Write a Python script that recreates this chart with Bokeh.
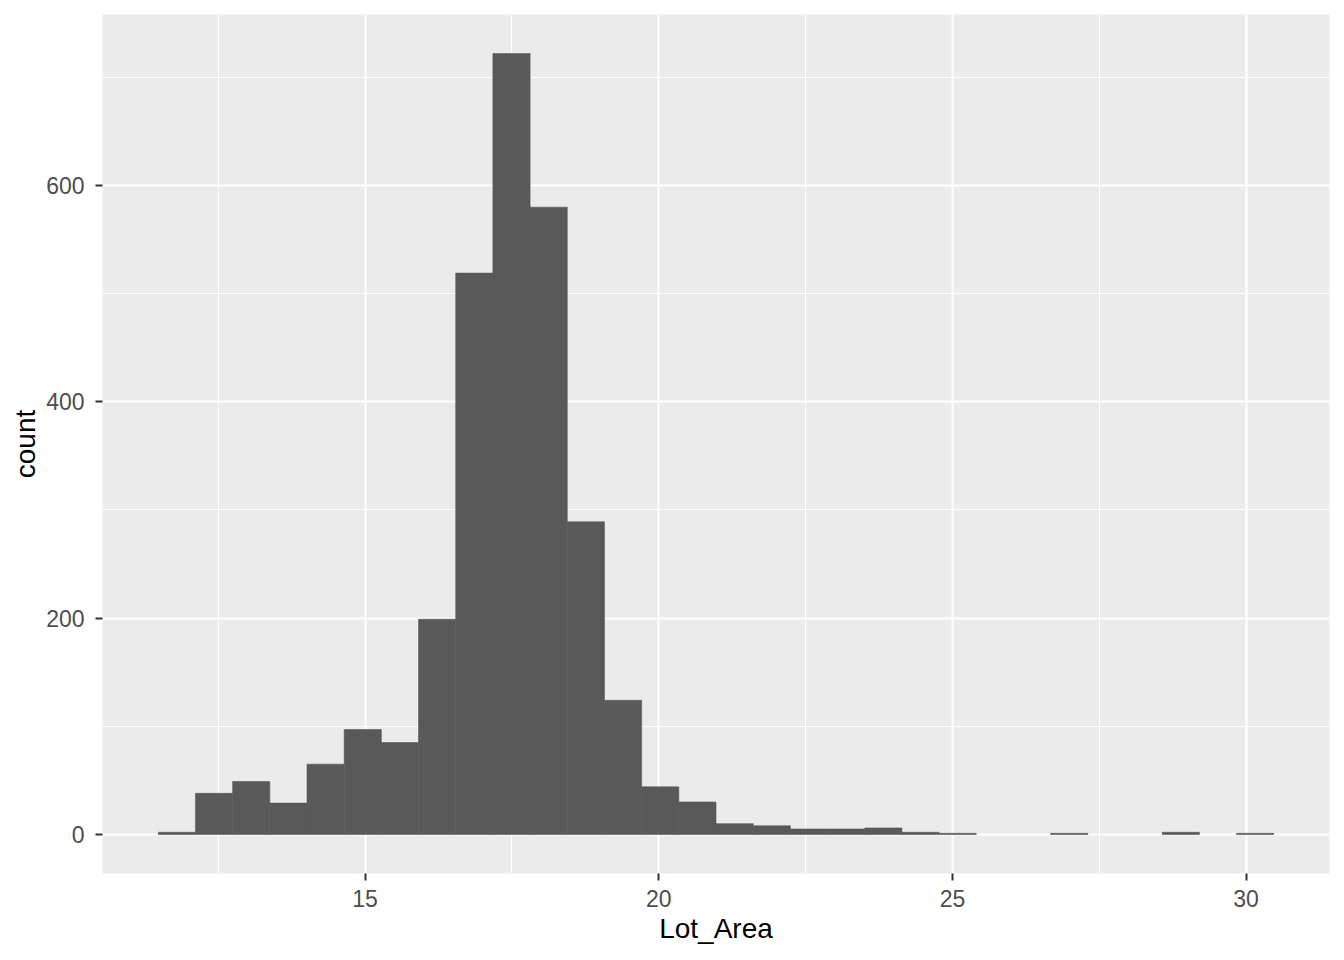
from bokeh.plotting import figure
from bokeh.models import Range1d, FixedTicker
from bokeh.embed import file_html
from bokeh.resources import INLINE

# Histogram of Lot_Area (30 bins)
bin_start = 11.48
bin_width = 0.633
counts = [2, 38, 49, 29, 65, 97, 85, 199, 519, 722, 580, 289, 124, 44, 30,
          10, 8, 5, 5, 6, 2, 1, 0, 0, 1, 0, 0, 2, 0, 1]
x_ticks = [15, 20, 25, 30]
x_minor = [12.5, 17.5, 22.5, 27.5]
y_ticks = [0, 200, 400, 600]
y_minor = [100, 300, 500, 700]
x_label = "Lot_Area"
y_label = "count"

lefts = [bin_start + i * bin_width for i in range(len(counts))]
rights = [l + bin_width for l in lefts]
edge_alpha = [1 if c > 0 else 0 for c in counts]
xmin, xmax = lefts[0], rights[-1]
xpad = 0.05 * (xmax - xmin)
ymax = max(counts)

p = figure(width=1344, height=960, output_backend="svg", toolbar_location=None,
           x_range=Range1d(xmin - xpad, xmax + xpad),
           y_range=Range1d(-0.05 * ymax, 1.05 * ymax),
           min_border_left=102, min_border_right=15, min_border_top=14, min_border_bottom=87)
p.background_fill_color = "#EBEBEB"
p.border_fill_color = "white"
p.outline_line_color = None

p.quad(left=lefts, right=rights, bottom=0, top=counts,
       fill_color="#595959", line_color="#595959", line_width=0.6,
       line_alpha=edge_alpha)

p.xaxis.ticker = FixedTicker(ticks=x_ticks, minor_ticks=x_minor)
p.yaxis.ticker = FixedTicker(ticks=y_ticks, minor_ticks=y_minor)

for g in (p.xgrid, p.ygrid):
    g.grid_line_color = "white"
    g.grid_line_width = 2
    g.minor_grid_line_color = "white"
    g.minor_grid_line_width = 1

for ax in (p.xaxis, p.yaxis):
    ax.axis_line_color = None
    ax.major_tick_line_color = "#333333"
    ax.major_tick_line_width = 2
    ax.major_tick_out = 7
    ax.major_tick_in = 0
    ax.minor_tick_line_color = None
    ax.major_label_text_font = "Liberation Sans"
    ax.major_label_text_font_size = "23px"
    ax.major_label_text_color = "#4D4D4D"
    ax.axis_label_text_font = "Liberation Sans"
    ax.axis_label_text_font_size = "28px"
    ax.axis_label_text_font_style = "normal"
    ax.axis_label_text_color = "black"

p.xaxis.axis_label = x_label
p.yaxis.axis_label = y_label
p.xaxis.major_label_standoff = 9
p.yaxis.major_label_standoff = 11
p.xaxis.axis_label_standoff = 3
p.yaxis.axis_label_standoff = 2

open("out.html", "w").write(file_html(p, INLINE))
